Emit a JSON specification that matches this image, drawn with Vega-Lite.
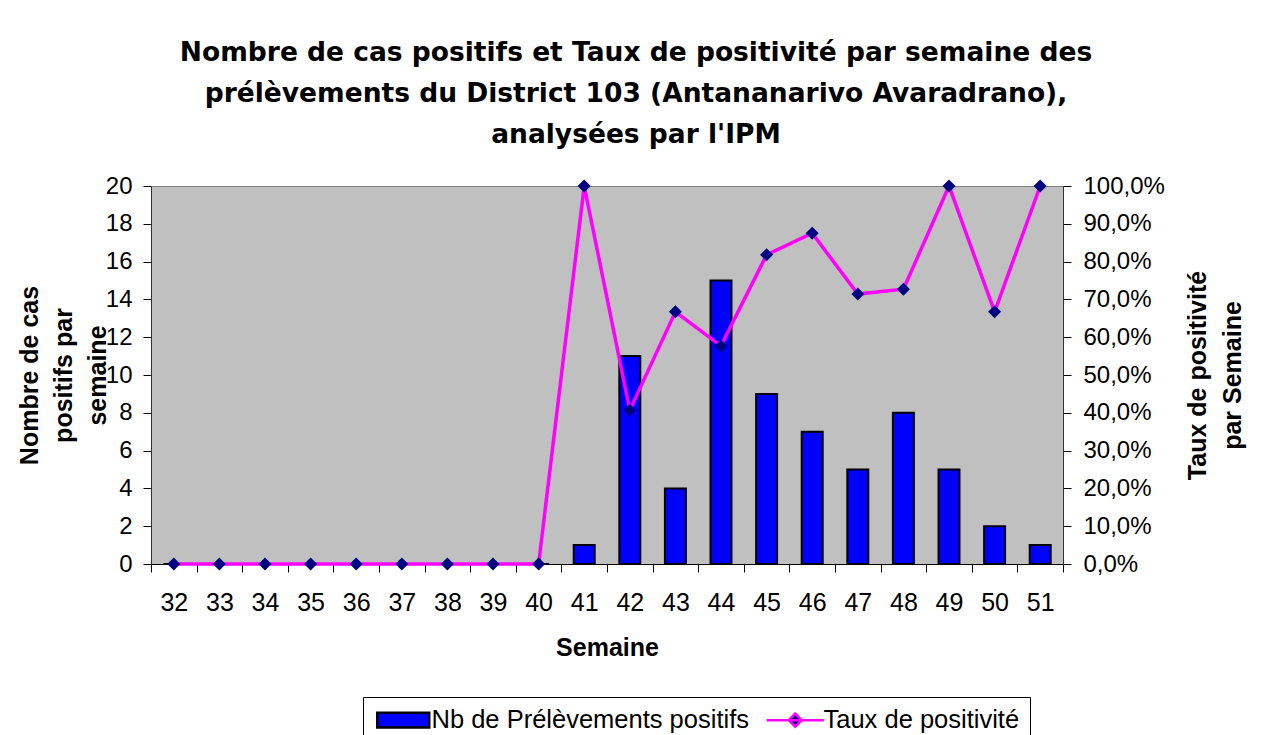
{
  "$schema": "https://vega.github.io/schema/vega-lite/v6.json",
  "width": 912,
  "height": 378,
  "autosize": {"type": "none"},
  "padding": {"left": 151, "top": 186, "right": 205, "bottom": 171},
  "background": "white",
  "title": {
    "text": ["Nombre de cas positifs et Taux de positivité par semaine des", "prélèvements du District 103 (Antananarivo Avaradrano),", "analysées par l'IPM"],
    "font": "DejaVu Sans",
    "fontWeight": "bold",
    "fontSize": 26.5,
    "lineHeight": 41,
    "color": "black",
    "anchor": "middle",
    "frame": "group",
    "dx": 29,
    "offset": 26
  },
  "data": {
    "values": [
      {"semaine": "32", "nb": 0, "taux": 0},
      {"semaine": "33", "nb": 0, "taux": 0},
      {"semaine": "34", "nb": 0, "taux": 0},
      {"semaine": "35", "nb": 0, "taux": 0},
      {"semaine": "36", "nb": 0, "taux": 0},
      {"semaine": "37", "nb": 0, "taux": 0},
      {"semaine": "38", "nb": 0, "taux": 0},
      {"semaine": "39", "nb": 0, "taux": 0},
      {"semaine": "40", "nb": 0, "taux": 0},
      {"semaine": "41", "nb": 1, "taux": 1.0},
      {"semaine": "42", "nb": 11, "taux": 0.407},
      {"semaine": "43", "nb": 4, "taux": 0.667},
      {"semaine": "44", "nb": 15, "taux": 0.577},
      {"semaine": "45", "nb": 9, "taux": 0.818},
      {"semaine": "46", "nb": 7, "taux": 0.875},
      {"semaine": "47", "nb": 5, "taux": 0.714},
      {"semaine": "48", "nb": 8, "taux": 0.727},
      {"semaine": "49", "nb": 5, "taux": 1.0},
      {"semaine": "50", "nb": 2, "taux": 0.667},
      {"semaine": "51", "nb": 1, "taux": 1.0}
    ]
  },
  "encoding": {
    "x": {
      "field": "semaine",
      "type": "ordinal",
      "scale": {"paddingInner": 0, "paddingOuter": 0},
      "axis": {
        "title": "Semaine",
        "labelAngle": 0,
        "tickBand": "extent",
        "tickSize": 8,
        "labelPadding": 18,
        "labelFontSize": 25,
        "titleFontSize": 25,
        "titleFontWeight": "bold",
        "titlePadding": 20,
        "domainColor": "black",
        "tickColor": "black",
        "labelColor": "black",
        "titleColor": "black"
      }
    }
  },
  "layer": [
    {
      "mark": {"type": "bar", "width": {"band": 0.46}, "strokeWidth": 2},
      "encoding": {
        "y": {
          "field": "nb",
          "type": "quantitative",
          "scale": {"domain": [0, 20]},
          "axis": {
            "title": ["Nombre de cas", "positifs par", "semaine"],
            "values": [0, 2, 4, 6, 8, 10, 12, 14, 16, 18, 20],
            "grid": false,
            "tickSize": 8,
            "labelPadding": 11,
            "labelFontSize": 24,
            "titleFontSize": 25,
            "titleFontWeight": "bold",
            "titleLineHeight": 34,
            "titlePadding": -5,
            "domainColor": "#333333",
            "tickColor": "black",
            "labelColor": "black",
            "titleColor": "black"
          }
        },
        "fill": {
          "datum": "Nb de Prélèvements positifs",
          "scale": {"domain": ["Nb de Prélèvements positifs", "Taux de positivité"], "range": ["#0000FF", "#000080"]},
          "legend": {
            "orient": "none", "legendX": 212, "legendY": 511, "direction": "horizontal", "title": null,
            "strokeColor": "black", "fillColor": "white", "padding": 10,
            "labelFontSize": 25.5, "labelColor": "black", "labelLimit": 0,
            "labelOffset": 15.5, "symbolOffset": 17.5, "columnPadding": 12,
            "symbolSize": 169, "symbolStrokeWidth": 2.5
          }
        },
        "stroke": {
          "datum": "Nb de Prélèvements positifs",
          "scale": {"domain": ["Nb de Prélèvements positifs", "Taux de positivité"], "range": ["#000000", "#FF00FF"]},
          "legend": {
            "orient": "none", "legendX": 212, "legendY": 511, "direction": "horizontal", "title": null,
            "strokeColor": "black", "fillColor": "white", "padding": 10,
            "labelFontSize": 25.5, "labelColor": "black", "labelLimit": 0,
            "labelOffset": 15.5, "symbolOffset": 17.5, "columnPadding": 12,
            "symbolSize": 169, "symbolStrokeWidth": 2.5
          }
        }
      }
    },
    {
      "encoding": {
        "y": {
          "field": "taux",
          "type": "quantitative",
          "scale": {"domain": [0, 1]},
          "axis": {
            "orient": "right",
            "title": ["Taux de positivité", "par Semaine"],
            "values": [0, 0.1, 0.2, 0.3, 0.4, 0.5, 0.6, 0.7, 0.8, 0.9, 1],
            "labelExpr": "replace(format(datum.value, '.1%'), '.', ',')",
            "grid": false,
            "tickSize": 8,
            "labelPadding": 12,
            "labelFontSize": 24,
            "titleFontSize": 25,
            "titleFontWeight": "bold",
            "titleLineHeight": 35,
            "titleAngle": -90,
            "titleBaseline": "top",
            "titlePadding": -14,
            "domainColor": "#333333",
            "tickColor": "black",
            "labelColor": "black",
            "titleColor": "black"
          }
        }
      },
      "layer": [
        {
          "mark": {"type": "line", "strokeWidth": 3.5},
          "encoding": {"stroke": {"datum": "Taux de positivité"}}
        },
        {
          "mark": {"type": "point", "filled": true, "size": 169, "opacity": 1, "strokeWidth": 0},
          "encoding": {
            "fill": {"datum": "Taux de positivité"},
            "shape": {
              "datum": "Taux de positivité",
              "scale": {"domain": ["Nb de Prélèvements positifs", "Taux de positivité"], "range": ["M-4,-1.15H4V1.15H-4Z", "M-4.4,0H4.4M0,-1L1,0L0,1L-1,0Z"]},
              "legend": {
                "orient": "none", "legendX": 212, "legendY": 511, "direction": "horizontal", "title": null,
                "strokeColor": "black", "fillColor": "white", "padding": 10,
                "labelFontSize": 25.5, "labelColor": "black", "labelLimit": 0,
                "labelOffset": 15.5, "symbolOffset": 17.5, "columnPadding": 12,
                "symbolSize": 169, "symbolStrokeWidth": 2.5
              }
            }
          }
        }
      ]
    }
  ],
  "resolve": {"scale": {"y": "independent"}},
  "config": {
    "font": "Liberation Sans",
    "view": {"fill": "#C0C0C0", "stroke": "#808080"}
  }
}
